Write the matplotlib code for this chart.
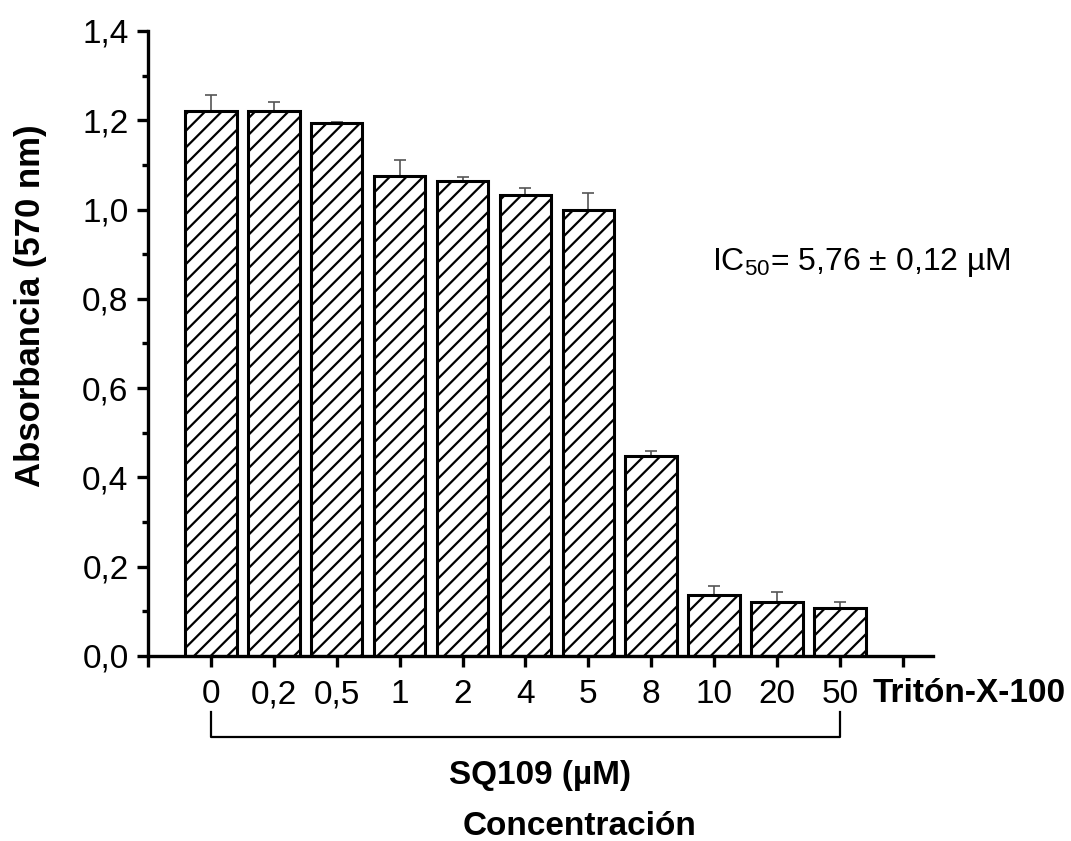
import matplotlib
matplotlib.use("Agg")
import matplotlib.pyplot as plt
import matplotlib.transforms as mtransforms
from matplotlib.ticker import FuncFormatter, MultipleLocator

plt.rcParams.update({
    "font.family": ["Liberation Sans", "DejaVu Sans"],
    "mathtext.fontset": "custom",
    "mathtext.rm": "Liberation Sans",
    "hatch.linewidth": 1.6,
})

# data
labels = ["0", "0,2", "0,5", "1", "2", "4", "5", "8", "10", "20", "50"]
absorb = [1.221, 1.221, 1.195, 1.076, 1.065, 1.032, 0.998, 0.447, 0.137, 0.122, 0.108]
err = [0.035, 0.019, 0.002, 0.036, 0.007, 0.016, 0.040, 0.013, 0.020, 0.022, 0.013]
xpos = list(range(len(labels)))

fig = plt.figure(figsize=(10.71, 8.41), dpi=100)
ax = fig.add_axes([148 / 1071, 1 - 656 / 841, 785 / 1071, 625 / 841])

ax.bar(xpos, absorb, width=0.82, color="white", edgecolor="black",
       linewidth=2.2, hatch="//", zorder=2)
ax.errorbar(xpos, absorb, yerr=[[0] * len(err), err], fmt="none",
            ecolor="#555555", elinewidth=1.2, capsize=4.3, capthick=1.2, zorder=1)

ax.set_xlim(-1, 11.48)
ax.set_ylim(0, 1.4)
ax.set_xticks(range(-1, 12))
ax.set_xticklabels([""] + labels + [""])
ax.yaxis.set_major_locator(MultipleLocator(0.2))
ax.yaxis.set_minor_locator(MultipleLocator(0.1))
ax.yaxis.set_major_formatter(FuncFormatter(lambda v, p: f"{v:.1f}".replace(".", ",")))

for s in ["top", "right"]:
    ax.spines[s].set_visible(False)
for s in ["left", "bottom"]:
    ax.spines[s].set_linewidth(2.4)

ax.tick_params(axis="both", which="major", direction="out", length=8, width=2.4,
               labelsize=24, pad=6)
ax.tick_params(axis="y", which="minor", direction="out", length=4.5, width=2.4)
ax.tick_params(axis="x", pad=26)
for lbl in ax.get_xticklabels():
    lbl.set_verticalalignment("baseline")

ax.set_ylabel("Absorbancia (570 nm)", fontsize=25, fontweight="bold")
ax.yaxis.set_label_coords(-0.129, 0.56)

# bracket under the SQ109 concentrations
trans = mtransforms.blended_transform_factory(ax.transData, ax.transAxes)
ax.plot([0, 0, 10, 10], [-0.0895, -0.129, -0.129, -0.0895], color="black",
        linewidth=1.6, transform=trans, clip_on=False)

fig.text(873 / 1071, 1 - 702 / 841, "Tritón-X-100", fontsize=24,
         fontweight="bold", ha="left", va="baseline")
fig.text(540 / 1071, 1 - 784 / 841, "SQ109 (µM)", fontsize=24,
         fontweight="bold", ha="center", va="baseline")
fig.text(580 / 1071, 1 - 835 / 841, "Concentración", fontsize=24,
         fontweight="bold", ha="center", va="baseline")
fig.text(712 / 1071, 1 - 270 / 841, r"IC$_{50}$= 5,76 ± 0,12 µM", fontsize=23,
         ha="left", va="baseline")

fig.savefig("out.png", dpi=100)
